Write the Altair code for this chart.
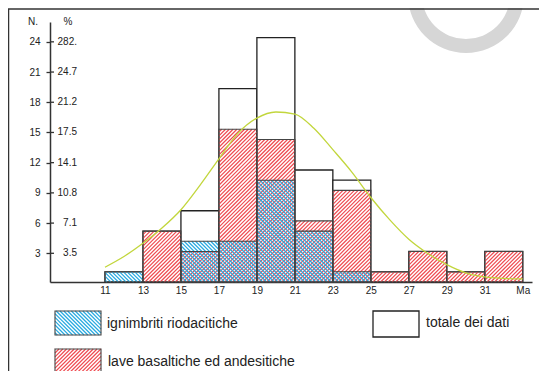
import math
import altair as alt
import pandas as pd

# ---------------- data ----------------
bin_start = [11, 13, 15, 17, 19, 21, 23, 25, 27, 29, 31]
bin_width = 2
ignimbriti = [1, 0, 4, 4, 10, 5, 1, 0, 0, 0, 0]      # cyan hatch
lave = [0, 5, 3, 15, 14, 6, 9, 1, 3, 1, 3]           # red hatch
totale = [1, 5, 7, 19, 24, 11, 10, 1, 3, 1, 3]       # white boxes

curve_x = [11, 12, 13, 14, 15, 16, 17, 18, 19, 20, 21, 22,
           23, 24, 25, 26, 27, 28, 29, 30, 31, 32, 33]
curve_y = [1.45, 2.5, 3.8, 5.3, 7.1, 9.5, 12.1, 14.6, 16.1, 16.7, 16.5, 15.1,
           13.0, 10.8, 8.3, 6.1, 4.2, 2.8, 1.7, 0.9, 0.5, 0.35, 0.3]

n_ticks = [3, 6, 9, 12, 15, 18, 21, 24]
pct_labels = ["3.5", "7.1", "10.8", "14.1", "17.5", "21.2", "24.7", "282."]
x_ticks = [11, 13, 15, 17, 19, 21, 23, 25, 27, 29, 31, 33]
last_tick_label = "Ma"
axis_headers = ["N.", "%"]
legend_labels = ["ignimbriti riodacitiche", "totale dei dati",
                 "lave basaltiche ed andesitiche"]

# ---------------- layout / style ----------------
W, H = 482, 260
PAD = {"left": 42, "top": 14, "right": 7, "bottom": 89}
XD = [8.105, 33.487]
YD = [0, 25.54]
YD_AXIS = [0.15, 25.97]
PX = W / (XD[1] - XD[0])
PY = H / (YD[1] - YD[0])
RED = "#ef4a50"
CYAN = "#26a9e0"
INK = "#222222"
FONT = "Liberation Sans"

X_SCALE = alt.Scale(domain=XD, nice=False, zero=False)
Y_SCALE = alt.Scale(domain=YD, nice=False, zero=False)
Y_AXIS_SCALE = alt.Scale(domain=YD_AXIS, nice=False, zero=False)


def px_to_data(xp, yp):
    """plot-area pixel -> data units (used for legend placement only)"""
    return XD[0] + xp / PX, (H - yp) / PY


def hatch(x0, x1, y0, y1, direction, sp=3.8):
    X0, X1 = (x0 - XD[0]) * PX, (x1 - XD[0]) * PX
    Y0, Y1 = y0 * PY, y1 * PY
    segs = []
    if direction == "/":
        for k in range(math.ceil((X0 - Y1) / sp), math.floor((X1 - Y0) / sp) + 1):
            c = k * sp
            xa, xb = max(X0, Y0 + c), min(X1, Y1 + c)
            if xb - xa > 0.05:
                segs.append((xa, xa - c, xb, xb - c))
    else:
        for k in range(math.ceil((X0 + Y0) / sp), math.floor((X1 + Y1) / sp) + 1):
            c = k * sp
            xa, xb = max(X0, c - Y1), min(X1, c - Y0)
            if xb - xa > 0.05:
                segs.append((xa, c - xa, xb, c - xb))
    return [{"x": a / PX + XD[0], "y": b / PY, "x2": c / PX + XD[0], "y2": d / PY}
            for a, b, c, d in segs]


def rects(values):
    return [{"x": s, "x2": s + bin_width, "y": 0, "y2": v}
            for s, v in zip(bin_start, values) if v > 0]


# legend boxes (plot-pixel layout)
def legend_box(xp0, xp1, yp0, yp1):
    xa, ya = px_to_data(xp0, yp1)
    xb, yb = px_to_data(xp1, yp0)
    return {"x": xa, "x2": xb, "y": ya, "y2": yb}


leg_cyan = legend_box(5, 51, 289, 313)
leg_total = legend_box(323, 369, 289, 315)
leg_red = legend_box(5, 51, 327, 352)

tot_df = pd.DataFrame(rects(totale) + [leg_total])
red_df = pd.DataFrame(rects(lave) + [leg_red])
cyan_df = pd.DataFrame(rects(ignimbriti) + [leg_cyan])

red_hatch = []
for r in red_df.to_dict("records"):
    red_hatch += hatch(r["x"], r["x2"], r["y"], r["y2"], "/")
cyan_hatch = []
for r in cyan_df.to_dict("records"):
    cyan_hatch += hatch(r["x"], r["x2"], r["y"], r["y2"], "\\")
red_hatch_df = pd.DataFrame(red_hatch)
cyan_hatch_df = pd.DataFrame(cyan_hatch)

curve_df = pd.DataFrame({"x": curve_x, "y": curve_y})

leg_pos = [(57, 302), (376, 301), (58, 340)]
leg_text_df = pd.DataFrame([
    dict(zip(["x", "y"], px_to_data(px, py)), label=lab)
    for lab, (px, py) in zip(legend_labels, leg_pos)
])

tick_df = pd.DataFrame({"n": n_ticks, "pct": pct_labels})
one = pd.DataFrame({"a": [0]})

x_axis = alt.Axis(
    values=x_ticks,
    labelExpr=f"datum.value == {x_ticks[-1]} ? '{last_tick_label}' : datum.label",
    ticks=False, grid=False, title=None, domainColor="#333333", domainWidth=1.5,
    labelFontSize=10, labelColor=INK, labelPadding=3, labelFlush=False,
)


def xenc(field="x"):
    return alt.X(f"{field}:Q", scale=X_SCALE, axis=x_axis)


def yenc(field="y"):
    return alt.Y(f"{field}:Q", scale=Y_SCALE, axis=None)


# decorations
watermark = alt.Chart(one).mark_arc(
    innerRadius=44, outerRadius=58, theta=0, theta2=6.2832, color="#d6d6d6"
).encode(x=alt.value(416), y=alt.value(-27))
border_top = alt.Chart(one).mark_rule(color="#333333", strokeWidth=1.5).encode(
    x=alt.value(-42), x2=alt.value(W + PAD["right"]), y=alt.value(-13))
border_left = alt.Chart(one).mark_rule(color="#333333", strokeWidth=1.5).encode(
    x=alt.value(-41.5), y=alt.value(-13), y2=alt.value(H + PAD["bottom"]))

total_bars = alt.Chart(tot_df).mark_rect(
    fill="white", stroke=INK, strokeWidth=1.3
).encode(x=xenc("x"), x2="x2", y=yenc("y"), y2="y2")

red_lines = alt.Chart(red_hatch_df).mark_rule(color=RED, strokeWidth=1.2).encode(
    x=xenc(), x2="x2", y=yenc(), y2="y2")
cyan_lines = alt.Chart(cyan_hatch_df).mark_rule(color=CYAN, strokeWidth=1.2).encode(
    x=xenc(), x2="x2", y=yenc(), y2="y2")

red_outline = alt.Chart(red_df).mark_rect(
    fillOpacity=0, stroke="#444444", strokeWidth=1.1
).encode(x=xenc(), x2="x2", y=yenc(), y2="y2")
cyan_outline = alt.Chart(cyan_df).mark_rect(
    fillOpacity=0, stroke="#444444", strokeWidth=1.1
).encode(x=xenc(), x2="x2", y=yenc(), y2="y2")

curve = alt.Chart(curve_df).mark_line(
    color="#c2d63c", strokeWidth=1.3, interpolate="monotone"
).encode(x=xenc(), y=yenc())

legend_text = alt.Chart(leg_text_df).mark_text(
    align="left", baseline="middle", fontSize=14, color=INK
).encode(x=xenc(), y=yenc(), text="label:N")

main = alt.layer(
    watermark, border_top, border_left, total_bars, red_lines, cyan_lines,
    red_outline, cyan_outline, curve, legend_text
)

# left axis (N.) with % labels on the other side
y_axis = alt.Axis(
    values=n_ticks, orient="left", grid=False, title=None,
    tickSize=4, tickColor="#333333", tickWidth=1.3,
    domainColor="#333333", domainWidth=1.5,
    labelFontSize=10, labelColor=INK, labelPadding=6,
)
inner_ticks = alt.Chart(tick_df).mark_rule(color="#333333", strokeWidth=1.3).encode(
    y=alt.Y("n:Q", scale=Y_AXIS_SCALE, axis=y_axis),
    x=alt.value(0), x2=alt.value(4),
)
pct_text = alt.Chart(tick_df).mark_text(
    align="right", baseline="middle", fontSize=10, color=INK
).encode(y=alt.Y("n:Q", scale=Y_AXIS_SCALE, axis=y_axis), x=alt.value(27), text="pct:N")
head_n = alt.Chart(one).mark_text(
    text=axis_headers[0], align="center", baseline="middle", fontSize=10, color=INK
).encode(x=alt.value(-17), y=alt.value(0))
head_p = alt.Chart(one).mark_text(
    text=axis_headers[1], align="center", baseline="middle", fontSize=10, color=INK
).encode(x=alt.value(18), y=alt.value(0))

axis_group = alt.layer(inner_ticks, pct_text, head_n, head_p)

chart = alt.layer(main, axis_group).resolve_scale(y="independent").properties(
    width=W, height=H, padding=PAD,
    autosize=alt.AutoSizeParams(type="none"),
    background="white",
).configure(font=FONT).configure_view(stroke=None)

chart.save("out.html", embed_options={"renderer": "svg", "actions": False})
